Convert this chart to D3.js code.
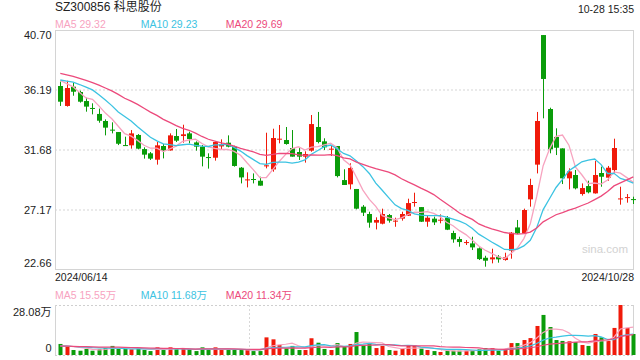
<!DOCTYPE html>
<html>
<head>
<meta charset="utf-8">
<script src="https://cdn.jsdelivr.net/npm/d3@7"></script>
<style>
body { margin: 0; background: #fff; }
svg { display: block; font-family: "Liberation Sans", Arial, "Noto Sans CJK SC", sans-serif; }
</style>
</head>
<body>
<svg id="chart" width="640" height="360"></svg>
<script>
// daily K-line, 2024/06/14 .. 2024/10/28 (90 trading days)
var opens = [36.49,34.99,36.44,36.04,35.36,34.84,34.39,33.86,33.21,33.03,
  32.05,32.03,32.81,31.75,31.43,30.95,31.98,31.65,32.73,32.73,
  32.93,32.25,31.93,31.15,31.10,31.95,32.23,31.93,30.35,29.40,
  29.50,29.37,30.45,30.22,32.48,32.43,31.83,31.53,31.18,31.63,
  33.41,32.33,31.73,31.98,29.42,29.10,28.75,27.42,26.87,26.22,
  26.14,26.79,26.32,26.52,26.74,27.72,27.39,26.29,26.52,26.39,
  26.59,25.44,24.99,24.71,24.66,24.29,23.58,23.46,23.66,23.41,
  24.11,25.86,25.41,27.97,30.58,40.32,34.76,32.66,31.80,29.55,
  29.80,28.37,28.97,28.42,29.95,29.60,30.17,27.99,28.09,27.99];
var highs = [36.82,36.89,36.74,36.14,35.61,35.19,34.79,33.98,33.76,33.03,
  32.68,33.18,32.88,31.88,31.53,32.28,32.13,32.93,33.26,33.58,
  33.06,32.33,32.05,31.43,32.33,32.48,32.78,32.00,30.40,30.00,
  29.92,29.67,32.98,33.28,33.56,33.41,33.18,31.88,31.58,34.31,
  34.54,32.56,32.05,31.98,30.23,30.68,28.75,27.54,27.04,26.62,
  27.27,26.87,26.59,27.04,28.02,28.47,27.39,26.77,26.67,26.84,
  26.72,25.61,25.16,24.91,25.16,24.36,23.73,24.26,23.78,23.96,
  25.51,26.42,27.27,29.52,34.54,40.32,34.86,33.31,31.80,30.30,
  30.18,29.17,29.37,30.85,30.43,30.48,32.53,28.92,28.37,28.17];
var lows = [34.99,34.94,35.76,35.24,34.56,34.36,33.73,32.78,32.93,32.05,
  31.98,31.78,31.73,31.03,30.93,30.58,31.05,31.63,32.28,32.23,
  32.18,31.63,30.45,30.28,30.88,31.68,31.88,30.43,29.17,28.87,
  29.17,29.00,30.30,30.05,32.18,32.08,31.18,30.93,30.73,31.55,
  32.18,31.68,31.23,29.62,29.05,28.72,27.22,26.72,25.84,25.71,
  26.09,26.22,25.91,26.37,26.72,27.42,26.27,25.91,26.04,26.17,
  25.66,24.71,24.41,24.54,24.16,23.41,22.91,23.16,23.21,23.36,
  23.51,25.36,25.36,27.42,29.92,34.06,31.43,31.30,29.12,28.72,
  28.72,28.25,28.42,28.40,28.92,29.37,29.92,27.57,27.72,27.62];
var closes = [35.31,36.34,36.06,35.31,34.94,34.79,33.88,33.36,33.16,32.15,
  32.00,32.93,31.78,31.33,31.03,32.03,31.63,32.78,32.38,32.86,
  32.51,31.93,31.18,31.10,32.28,32.10,31.93,30.48,29.62,29.47,
  29.45,29.00,30.53,32.58,32.53,32.13,31.18,31.18,31.38,33.63,
  32.28,31.88,31.78,29.72,29.05,30.33,27.27,26.97,26.22,26.42,
  26.87,26.37,26.37,26.87,27.69,27.77,26.29,26.59,26.24,26.44,
  25.69,24.96,24.76,24.76,24.36,23.48,23.36,23.61,23.46,23.61,
  25.46,25.41,27.17,29.05,33.86,37.02,31.73,31.85,29.55,30.07,
  28.80,28.82,28.50,29.80,29.67,30.35,31.83,28.04,28.14,27.94];
// volume, 万
var volumes = [6.2,4.7,2.8,2.4,3.4,2.4,3.4,3.9,5.1,3.6,
  3.6,3.2,3.6,2.8,2.2,4.3,2.8,4.3,3.4,3.6,
  3.2,2.2,4.3,2.8,4.3,2.8,2.8,2.8,2.8,2.8,
  2.2,2.2,9.9,8.8,5.6,3.7,5.1,2.8,2.8,9.4,
  6.9,3.4,2.8,6.7,4.7,6.2,12.9,5.4,6.6,3.9,
  5.1,2.8,2.4,3.4,5.4,5.4,3.6,2.8,2.2,1.7,
  2.4,2.4,2.4,2.4,2.8,3.2,3.9,3.9,2.4,3.4,
  6.7,6.7,8.4,9.5,16.3,22.5,15.7,8.4,7.9,7.7,
  7.3,5.6,5.1,11.8,9.9,8.0,15.2,28.08,15.2,11.8];
// sessions before the window, estimated from where the MA lines start
var prevCloses = [38.6,38.2,38.5,37.9,38.1,37.6,37.8,37.4,37.5,37.8,
  37.2,36.8,37.1,36.9,36.9,37.5,37.3,37.4,37.0];
var prevVolumes = [5.1,4.6,5.8,4.2,4.9,5.5,4.4,5.0,4.7,5.3,
  4.8,5.6,4.3,5.2,4.9,4.5,5.4,4.6,5.0];

var priceTicks = [40.70, 36.19, 31.68, 27.17, 22.66];
var volTicks = [28.08, 0];
var volTickLabels = ["28.08万", "0"];
var dateLabels = ["2024/06/14", "2024/10/28"];
var maPeriods = [5, 10, 20];
var maColors = ["#f7a3bf", "#3cc3e2", "#ec4a7c"];
var priceLegend = ["MA5 29.32", "MA10 29.23", "MA20 29.69"];
var volLegend = ["MA5 15.55万", "MA10 11.68万", "MA20 11.34万"];

var upColor = "#f01a0a", downColor = "#0a9c0a";
var left = 55, right = 634;
var pTop = 30, pBot = 270, vTop = 305, vBot = 355;

var svg = d3.select("#chart");

var x = d3.scalePoint().domain(d3.range(closes.length)).range([60.3, 633.3]);
var y = d3.scaleLinear().domain([22.66, 40.70]).range([pBot, pTop]);
var yv = d3.scaleLinear().domain([0, 28.08]).range([vBot, vTop]);

function movingAvg(prev, vals, n) {
    var all = prev.concat(vals);
    return vals.map(function(v, i) {
        var j = prev.length + i;
        return d3.mean(all.slice(j - n + 1, j + 1));
    });
}

// header
svg.append("text").attr("x", 55).attr("y", 11).attr("font-size", "12px")
  .attr("fill", "#222").text("SZ300856 科思股份");
svg.append("text").attr("x", 634).attr("y", 13).attr("font-size", "10.5px")
  .attr("text-anchor", "end").attr("fill", "#222").text("10-28 15:35");

var legendX = [55, 140.7, 225.7];
priceLegend.forEach(function(t, i) {
    svg.append("text").attr("x", legendX[i]).attr("y", 27.5).attr("font-size", "10.5px")
      .attr("fill", maColors[i]).text(t);
});
volLegend.forEach(function(t, i) {
    svg.append("text").attr("x", legendX[i]).attr("y", 299).attr("font-size", "10.5px")
      .attr("fill", maColors[i]).text(t);
});

// price grid + axis labels
priceTicks.slice(1, 4).forEach(function(v) {
    svg.append("line").attr("x1", left).attr("x2", right)
      .attr("y1", Math.round(y(v))).attr("y2", Math.round(y(v)))
      .attr("stroke", "#e4e4e4").attr("stroke-width", 1.6).attr("stroke-dasharray", "2,2");
});
priceTicks.forEach(function(v, i) {
    var ty = y(v) + 4;
    if (i == 0) ty = y(v) + 8.7;
    if (i == priceTicks.length - 1) ty = y(v) - 3;
    svg.append("text").attr("x", 51.5).attr("y", ty).attr("font-size", "11px")
      .attr("text-anchor", "end").attr("fill", "#222").text(v.toFixed(2));
});
svg.append("rect").attr("x", left + 0.5).attr("y", pTop + 0.5)
  .attr("width", right - left - 1).attr("height", pBot - pTop - 1)
  .attr("fill", "none").attr("stroke", "#d4d4d4");

svg.append("text").attr("x", 582).attr("y", 253).attr("font-size", "11.5px")
  .attr("fill", "#d2d2d2").text("sina.com");

// date labels
svg.append("text").attr("x", 55).attr("y", 281).attr("font-size", "10.5px")
  .attr("fill", "#222").text(dateLabels[0]);
svg.append("text").attr("x", 634).attr("y", 281).attr("font-size", "10.5px")
  .attr("text-anchor", "end").attr("fill", "#222").text(dateLabels[1]);

// candles
var candles = svg.append("g");
closes.forEach(function(c, i) {
    var o = opens[i];
    var col = c >= o ? upColor : downColor;
    var cx = Math.round(x(i));
    candles.append("line").attr("x1", cx + 0.5).attr("x2", cx + 0.5)
      .attr("y1", y(highs[i])).attr("y2", y(lows[i]))
      .attr("stroke", col).attr("stroke-width", 1);
    var top = y(Math.max(o, c)), bot = y(Math.min(o, c));
    candles.append("rect").attr("x", cx - 2).attr("y", top)
      .attr("width", 5).attr("height", Math.max(1, bot - top)).attr("fill", col);
});

// price MAs
var line = d3.line().x(function(d, i) { return x(i); }).y(function(d) { return y(d); });
maPeriods.forEach(function(n, k) {
    svg.append("path").datum(movingAvg(prevCloses, closes, n))
      .attr("d", line).attr("fill", "none")
      .attr("stroke", maColors[k]).attr("stroke-width", 1.3);
});

// volume panel
svg.append("line").attr("x1", left).attr("x2", right).attr("y1", vTop + 0.5).attr("y2", vTop + 0.5)
  .attr("stroke", "#cfcfcf").attr("stroke-dasharray", "2,2");
svg.append("line").attr("x1", left).attr("x2", right).attr("y1", vBot + 0.5).attr("y2", vBot + 0.5)
  .attr("stroke", "#cfcfcf").attr("stroke-dasharray", "2,2");
[left + 0.5, right - 0.5].forEach(function(px) {
    svg.append("line").attr("x1", px).attr("x2", px).attr("y1", vTop).attr("y2", vBot)
      .attr("stroke", "#d4d4d4");
});
[249, 441].forEach(function(px) {
    svg.append("line").attr("x1", px + 0.5).attr("x2", px + 0.5).attr("y1", vTop).attr("y2", vBot)
      .attr("stroke", "#d8d8d8").attr("stroke-dasharray", "2,2");
});
volTicks.forEach(function(v, i) {
    svg.append("text").attr("x", 51.5).attr("y", i == 0 ? yv(v) + 11 : yv(v) - 3)
      .attr("font-size", "11px").attr("text-anchor", "end").attr("fill", "#222")
      .text(volTickLabels[i]);
});

var bars = svg.append("g");
volumes.forEach(function(v, i) {
    var col = closes[i] >= opens[i] ? upColor : downColor;
    bars.append("rect").attr("x", Math.round(x(i)) - 1.5).attr("y", yv(v))
      .attr("width", 4).attr("height", vBot - yv(v)).attr("fill", col);
});

var vline = d3.line().x(function(d, i) { return x(i); }).y(function(d) { return yv(d); });
maPeriods.forEach(function(n, k) {
    svg.append("path").datum(movingAvg(prevVolumes, volumes, n))
      .attr("d", vline).attr("fill", "none")
      .attr("stroke", maColors[k]).attr("stroke-width", 1.2);
});
</script>
</body>
</html>
